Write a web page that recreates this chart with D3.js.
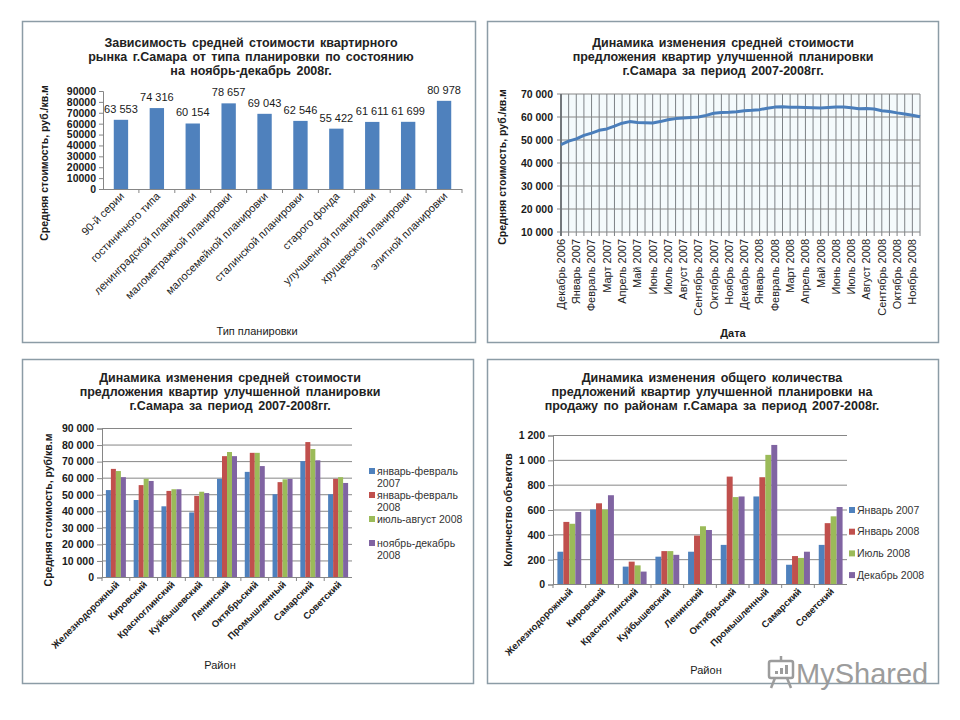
<!DOCTYPE html>
<html>
  <head>
    <meta charset="utf-8">
    <script src="https://cdnjs.cloudflare.com/ajax/libs/d3/7.8.5/d3.min.js"></script>
    <style>
      body { margin: 0; background: #fff; overflow: hidden; }
      svg { font-family: "Liberation Sans", Arial, sans-serif; }
    </style>
  </head>
  <body>
    <div id="canvas"></div>
    <script>
      // --- chart 1: price by layout type
      const planTypes = ["90-й серии", "гостиничного типа", "ленинградской планировки",
        "малометражной планировки", "малосемейной планировки", "сталинской планировки",
        "старого фонда", "улучшенной планировки", "хрущевской планировки", "элитной планировки"];
      const planPrices = [63553, 74316, 60154, 78657, 69043, 62546, 55422, 61611, 61699, 80978];
      const planTicks = [0, 10000, 20000, 30000, 40000, 50000, 60000, 70000, 80000, 90000];

      // --- chart 2: monthly price dynamics (two readings per month)
      const monthLabels = ["Декабрь 2006", "Январь 2007", "Февраль 2007", "Март 2007", "Апрель 2007",
        "Май 2007", "Июнь 2007", "Июль 2007", "Август 2007", "Сентябрь 2007", "Октябрь 2007",
        "Ноябрь 2007", "Декабрь 2007", "Январь 2008", "Февраль 2008", "Март 2008", "Апрель 2008",
        "Май 2008", "Июнь 2008", "Июль 2008", "Август 2008", "Сентябрь 2008", "Октябрь 2008", "Ноябрь 2008"];
      const monthPrices = [48000, 49500, 50500, 52000, 53000, 54200, 54800, 56000, 57300, 58000,
        57600, 57500, 57400, 58000, 58800, 59300, 59600, 59800, 60000, 60700,
        61600, 62000, 62100, 62300, 62700, 62900, 63200, 63800, 64300, 64500,
        64200, 64200, 64100, 64000, 63900, 64100, 64300, 64300, 64000, 63600,
        63700, 63500, 62700, 62400, 61800, 61300, 60800, 60100];
      const monthTicks = [10000, 20000, 30000, 40000, 50000, 60000, 70000];

      // --- chart 3 / 4: districts
      const districts = ["Железнодорожный", "Кировский", "Красноглинский", "Куйбышевский",
        "Ленинский", "Октябрьский", "Промышленный", "Самарский", "Советский"];
      const priceSeries = ["январь-февраль 2007", "январь-февраль 2008", "июль-август 2008", "ноябрь-декабрь 2008"];
      const priceJanFeb07 = [52500, 46500, 42700, 39000, 59300, 63500, 50000, 70000, 50000];
      const priceJanFeb08 = [65300, 55500, 52000, 49000, 73000, 75000, 57300, 81500, 59300];
      const priceJulAug08 = [64000, 59300, 53000, 51500, 75500, 75000, 59000, 77300, 60300];
      const priceNovDec08 = [60300, 58000, 53000, 50700, 73000, 67000, 59200, 70500, 56800];
      const priceTicks = [0, 10000, 20000, 30000, 40000, 50000, 60000, 70000, 80000, 90000];

      const countSeries = ["Январь 2007", "Январь 2008", "Июль 2008", "Декабрь 2008"];
      const countJan07 = [260, 600, 140, 220, 260, 315, 705, 155, 315];
      const countJan08 = [500, 650, 180, 265, 390, 865, 860, 225, 490];
      const countJul08 = [485, 600, 150, 265, 465, 700, 1040, 210, 545];
      const countDec08 = [580, 715, 100, 235, 435, 705, 1120, 260, 620];
      const countTicks = [0, 200, 400, 600, 800, 1000, 1200];

      const colors = ["#4F81BD", "#C0504D", "#9BBB59", "#8064A2"];
      const axisColor = "#868686";
      const fmt = d3.formatLocale({ decimal: ",", thousands: " ", grouping: [3], currency: ["", ""] }).format(",");

      const svg = d3.select("#canvas").append("svg").attr("width", 960).attr("height", 720);
      svg.append("rect").attr("width", 960).attr("height", 720).attr("fill", "#fff");

      // panel frames
      [[22.5, 21.5, 453, 321], [487.5, 21.5, 451, 321], [22.5, 359.5, 451, 324], [487.5, 359.5, 451, 324]]
        .forEach(p => svg.append("rect").attr("x", p[0]).attr("y", p[1]).attr("width", p[2]).attr("height", p[3])
          .attr("fill", "#fff").attr("stroke", "#8c9ca6").attr("stroke-width", 1.5));

      function title(lines, cx, y) {
        lines.forEach((t, i) => svg.append("text").attr("x", cx).attr("y", y + i * 14)
          .attr("text-anchor", "middle").attr("font-size", 12.5).attr("font-weight", "bold")
          .attr("word-spacing", 2).attr("fill", "#222").text(t));
      }
      function vTitle(t, x, cy) {
        svg.append("text").attr("transform", `translate(${x},${cy}) rotate(-90)`)
          .attr("text-anchor", "middle").attr("font-size", 10.5).attr("font-weight", "bold")
          .attr("fill", "#1a1a1a").text(t);
      }
      function hTitle(t, x, y, bold) {
        svg.append("text").attr("x", x).attr("y", y).attr("text-anchor", "middle")
          .attr("font-size", 11).attr("font-weight", bold ? "bold" : "normal").attr("fill", "#1a1a1a").text(t);
      }
      function styleAxis(a, size) {
        a.attr("font-family", null).attr("font-size", null);
        a.select(".domain").attr("stroke", axisColor);
        a.selectAll(".tick line").attr("stroke", axisColor);
        a.selectAll(".tick text").attr("font-size", size).attr("font-weight", "bold").attr("fill", "#1a1a1a");
      }

      // ================= chart 1 =================
      title(["Зависимость средней стоимости квартирного", "рынка г.Самара от типа планировки по состоянию",
        "на ноябрь-декабрь 2008г."], 251, 47);
      const x1 = d3.scaleBand().domain(planTypes).range([103, 462]).paddingInner(0.6).paddingOuter(0.3);
      const y1 = d3.scaleLinear().domain([0, 90000]).range([189, 91]);
      const ay1 = svg.append("g").attr("transform", "translate(103,0)")
        .call(d3.axisLeft(y1).tickValues(planTicks).tickSize(4).tickPadding(3).tickFormat(d3.format("d")));
      styleAxis(ay1, 10.5);
      svg.append("line").attr("x1", 103).attr("x2", 462).attr("y1", 189.5).attr("y2", 189.5).attr("stroke", axisColor);
      svg.selectAll(null).data(planTypes).join("line")
        .attr("x1", d => x1(d) - x1.step() * 0.3 + x1.step()).attr("x2", d => x1(d) - x1.step() * 0.3 + x1.step())
        .attr("y1", 189).attr("y2", 193).attr("stroke", axisColor);
      svg.selectAll(null).data(planPrices).join("rect")
        .attr("x", (d, i) => x1(planTypes[i])).attr("y", d => y1(d))
        .attr("width", x1.bandwidth()).attr("height", d => y1(0) - y1(d)).attr("fill", colors[0]);
      svg.selectAll(null).data(planPrices).join("text")
        .attr("x", (d, i) => x1(planTypes[i]) + x1.bandwidth() / 2).attr("y", d => y1(d) - 7)
        .attr("text-anchor", "middle").attr("font-size", 11).attr("fill", "#1a1a1a").text(d => fmt(d));
      svg.selectAll(null).data(planTypes).join("text")
        .attr("transform", d => `translate(${x1(d) + x1.bandwidth() / 2 + 4},${197}) rotate(-45)`)
        .attr("text-anchor", "end").attr("font-size", 11).attr("fill", "#222").text(d => d);
      vTitle("Средняя стоимость, руб./кв.м", 48, 163);
      hTitle("Тип планировки", 257, 335, false);

      // ================= chart 2 =================
      title(["Динамика изменения средней стоимости", "предложения квартир улучшенной планировки",
        "г.Самара за период 2007-2008гг."], 723, 47);
      const x2 = d3.scaleLinear().domain([0, monthPrices.length - 1]).range([561, 920]);
      const y2 = d3.scaleLinear().domain([10000, 70000]).range([232, 94]);
      svg.append("rect").attr("x", 561).attr("y", 94).attr("width", 359).attr("height", 138).attr("fill", "#f4fafc");
      svg.selectAll(null).data(monthPrices).join("line")
        .attr("x1", (d, i) => x2(i)).attr("x2", (d, i) => x2(i)).attr("y1", 94).attr("y2", 236)
        .attr("stroke", "#6f7478").attr("stroke-width", 0.9);
      svg.selectAll(null).data(monthTicks).join("line")
        .attr("x1", 557).attr("x2", 920).attr("y1", d => y2(d)).attr("y2", d => y2(d))
        .attr("stroke", axisColor).attr("stroke-width", 1);
      svg.append("line").attr("x1", 561).attr("x2", 561).attr("y1", 94).attr("y2", 236)
        .attr("stroke", "#6b7074").attr("stroke-width", 1.8);
      svg.selectAll(null).data(monthTicks).join("text")
        .attr("x", 553).attr("y", d => y2(d)).attr("dy", "0.35em").attr("text-anchor", "end")
        .attr("font-size", 10.5).attr("font-weight", "bold").attr("fill", "#1a1a1a").text(d => fmt(d));
      svg.append("path").datum(monthPrices)
        .attr("d", d3.line().x((d, i) => x2(i)).y(d => y2(d)))
        .attr("fill", "none").attr("stroke", "#4A7EBB").attr("stroke-width", 3).attr("stroke-linejoin", "round");
      svg.selectAll(null).data(monthLabels).join("text")
        .attr("transform", (d, i) => `translate(${x2(i * 2)},${239}) rotate(-90)`)
        .attr("dy", "0.35em").attr("text-anchor", "end").attr("font-size", 11).attr("fill", "#222").text(d => d);
      vTitle("Средняя стоимость, руб./кв.м", 506, 167);
      hTitle("Дата", 733, 337, true);

      // ================= grouped charts =================
      function grouped(o) {
        const x = d3.scaleBand().domain(districts).range([o.left, o.right]).paddingInner(o.pad).paddingOuter(o.pad / 2);
        const xs = d3.scaleBand().domain(d3.range(o.series.length)).range([0, x.bandwidth()]);
        const y = d3.scaleLinear().domain([0, o.ticks[o.ticks.length - 1]]).range([o.bottom, o.top]);
        svg.selectAll(null).data(o.ticks).join("line")
          .attr("x1", o.left).attr("x2", o.right).attr("y1", d => y(d) + 0.5).attr("y2", d => y(d) + 0.5)
          .attr("stroke", axisColor);
        const ay = svg.append("g").attr("transform", `translate(${o.left},0.5)`)
          .call(d3.axisLeft(y).tickValues(o.ticks).tickSize(5).tickPadding(3).tickFormat(fmt));
        styleAxis(ay, 10.5);
        svg.selectAll(null).data(districts).join("line")
          .attr("x1", d => x(d) - x.step() * o.pad / 2).attr("x2", d => x(d) - x.step() * o.pad / 2)
          .attr("y1", o.bottom).attr("y2", o.bottom + 4).attr("stroke", axisColor);
        o.series.forEach((vals, s) => {
          svg.selectAll(null).data(vals).join("rect")
            .attr("x", (d, i) => x(districts[i]) + xs(s)).attr("y", d => y(d))
            .attr("width", xs.bandwidth()).attr("height", d => y(0) - y(d)).attr("fill", colors[s]);
        });
        svg.selectAll(null).data(districts).join("text")
          .attr("transform", d => `translate(${x(d) + x.bandwidth() / 2 + 4},${o.bottom + 8}) rotate(-45)`)
          .attr("text-anchor", "end").attr("font-size", 9.5).attr("font-weight", "bold").attr("fill", "#222").text(d => d);
        // legend
        o.names.forEach((name, s) => {
          const yy = o.legY + s * o.legStep;
          svg.append("rect").attr("x", o.legX).attr("y", yy - 3).attr("width", 6).attr("height", 6).attr("fill", colors[s]);
          const lines = name.length > 16 ? [name.slice(0, name.lastIndexOf(" ")), name.slice(name.lastIndexOf(" ") + 1)] : [name];
          lines.forEach((t, k) => svg.append("text").attr("x", o.legX + 8).attr("y", yy + k * 12.5)
            .attr("dy", "0.35em").attr("font-size", 10.5).attr("fill", "#333").text(t));
        });
      }

      // ================= chart 3 =================
      title(["Динамика изменения средней стоимости", "предложения квартир улучшенной планировки",
        "г.Самара за период 2007-2008гг."], 230, 382);
      grouped({ left: 102, right: 352, top: 428, bottom: 577, pad: 0.28,
        series: [priceJanFeb07, priceJanFeb08, priceJulAug08, priceNovDec08], ticks: priceTicks,
        names: priceSeries, legX: 369, legY: 471, legStep: 24 });
      vTitle("Средняя стоимость, руб/кв.м", 52, 510);
      hTitle("Район", 220, 669, false);

      // ================= chart 4 =================
      title(["Динамика изменения общего количества", "предложений квартир улучшенной планировки на",
        "продажу по районам г.Самара за период 2007-2008г."], 712, 382);
      grouped({ left: 553, right: 847, top: 435, bottom: 584, pad: 0.27,
        series: [countJan07, countJan08, countJul08, countDec08], ticks: countTicks,
        names: countSeries, legX: 849, legY: 510, legStep: 21.7 });
      vTitle("Количество объектов", 512, 510);
      hTitle("Район", 706, 674, false);

      // watermark
      const wm = svg.append("g").attr("fill", "none").attr("stroke", "#9c9c9c");
      wm.append("rect").attr("x", 769).attr("y", 661).attr("width", 24).attr("height", 17).attr("rx", 2).attr("stroke-width", 2.5);
      wm.append("line").attr("x1", 781).attr("x2", 781).attr("y1", 656).attr("y2", 661).attr("stroke-width", 2.5);
      wm.append("line").attr("x1", 775).attr("x2", 771).attr("y1", 678).attr("y2", 688).attr("stroke-width", 2.5);
      wm.append("line").attr("x1", 787).attr("x2", 791).attr("y1", 678).attr("y2", 688).attr("stroke-width", 2.5);
      [[775, 671, 3], [780, 668, 6], [785, 665, 9]].forEach(b =>
        wm.append("rect").attr("x", b[0]).attr("y", b[1]).attr("width", 3).attr("height", b[2]).attr("fill", "#9c9c9c").attr("stroke", "none"));
      svg.append("text").attr("x", 796).attr("y", 684).attr("font-size", 29).attr("fill", "#9c9c9c").text("MyShared");
    </script>
  </body>
</html>
